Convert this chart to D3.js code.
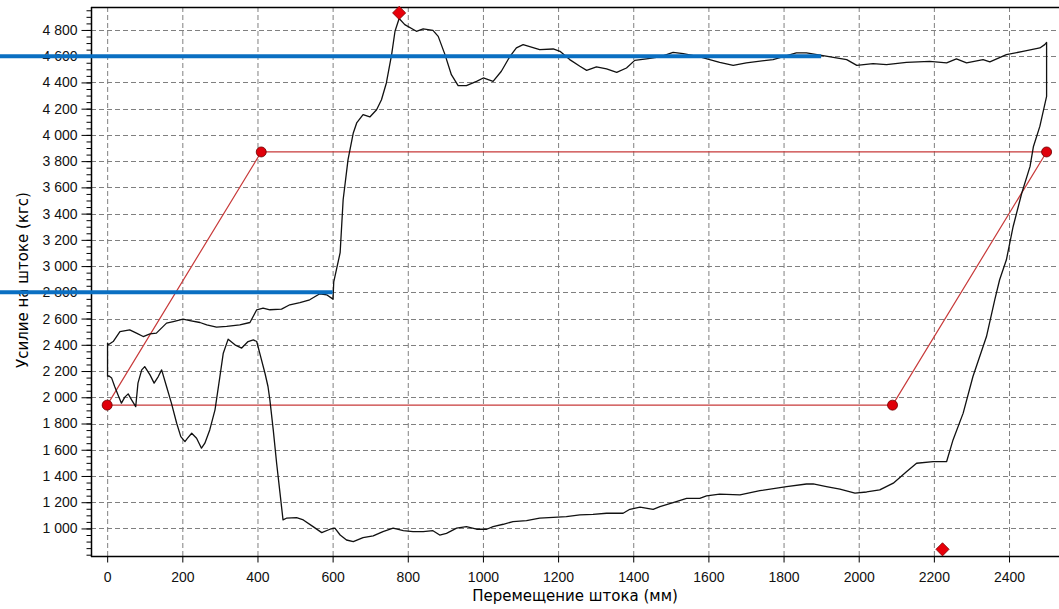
<!DOCTYPE html>
<html>
<head>
<meta charset="utf-8">
<script src="https://cdn.jsdelivr.net/npm/d3@7"></script>
<style>
  body { margin: 0; background: #fff; }
  svg { display: block; font-family: "DejaVu Sans", "Liberation Sans", Arial, sans-serif; }
  .grid line { stroke: #808080; stroke-width: 1; stroke-dasharray: 5,3; }
  .axis text { font-size: 14px; fill: #111; }
  .axis line { stroke: #000; }
</style>
</head>
<body>
<svg id="chart" width="1059" height="609"></svg>
<script>
// rod travel (mm) vs rod force (kgf), forward stroke: left edge up, upper branch to the right
const forwardStroke = [
  [1,2158],[1,2413],[3,2400],[16,2425],[34,2501],[60,2514],[78,2489],[96,2463],[114,2484],[131,2489],
  [158,2565],[176,2577],[202,2596],[220,2585],[247,2570],[265,2552],[291,2535],[318,2540],[353,2552],
  [380,2570],[398,2667],[415,2680],[433,2667],[464,2672],[486,2705],[513,2722],[539,2743],[566,2789],
  [584,2781],[601,2748],[603,2880],[620,3102],[628,3506],[641,3811],[655,4015],[664,4091],[681,4154],
  [699,4137],[717,4192],[730,4268],[743,4396],[757,4612],[766,4790],[777,4887],[792,4841],[823,4790],
  [841,4808],[867,4797],[881,4751],[899,4612],[916,4459],[934,4375],[956,4375],[983,4408],[1001,4434],
  [1027,4408],[1049,4485],[1072,4599],[1089,4663],[1107,4688],[1151,4650],[1187,4655],[1205,4637],
  [1231,4574],[1258,4523],[1276,4492],[1302,4518],[1329,4503],[1356,4477],[1382,4510],[1404,4568],
  [1435,4579],[1471,4594],[1506,4629],[1533,4619],[1577,4594],[1630,4553],[1666,4530],[1701,4549],
  [1772,4574],[1834,4625],[1861,4625],[1905,4604],[1968,4574],[1995,4530],[2038,4543],[2074,4536],
  [2127,4553],[2189,4561],[2234,4549],[2260,4579],[2287,4549],[2331,4574],[2349,4556],[2393,4612],
  [2437,4637],[2482,4663],[2495,4688],[2500,4705]
];

// return stroke: right edge down, lower branch back to zero
const returnStroke = [
  [2500,4705],[2500,4294],[2482,4065],[2465,3912],[2456,3760],[2434,3557],[2411,3302],[2393,3048],
  [2375,2896],[2362,2743],[2340,2463],[2304,2158],[2278,1879],[2251,1675],[2234,1510],[2216,1510],
  [2198,1510],[2154,1497],[2127,1433],[2092,1345],[2056,1294],[2021,1278],[1990,1269],[1950,1299],
  [1914,1319],[1879,1339],[1861,1339],[1808,1319],[1737,1288],[1684,1256],[1630,1261],[1595,1248],
  [1577,1230],[1542,1230],[1506,1197],[1471,1166],[1453,1146],[1418,1162],[1391,1146],[1373,1116],
  [1329,1116],[1293,1108],[1258,1103],[1222,1090],[1187,1085],[1151,1078],[1116,1059],[1080,1052],
  [1054,1032],[1027,1014],[1010,994],[983,994],[956,1014],[930,1002],[903,963],[885,950],[867,983],
  [841,976],[814,976],[788,983],[761,1002],[734,976],[708,943],[681,930],[655,899],[637,912],[620,950],
  [606,1002],[593,994],[571,968],[548,1014],[522,1065],[504,1082],[477,1078],[468,1065],[460,1269],
  [451,1497],[442,1751],[433,1980],[428,2082],[420,2183],[406,2336],[398,2425],[389,2438],[375,2425],
  [358,2375],[340,2400],[322,2443],[309,2336],[300,2158],[287,1904],[273,1751],[260,1650],[251,1612],
  [238,1688],[225,1726],[214,1688],[207,1662],[196,1700],[185,1802],[171,1955],[158,2082],[145,2209],
  [136,2158],[125,2108],[114,2171],[100,2234],[92,2209],[82,2108],[76,1929],[65,1980],[56,2026],
  [47,2001],[38,1955],[29,2018],[20,2082],[12,2146],[5,2163],[1,2158]
];

// reference envelope (parallelogram)
const envelopeUpper = [[0,1940],[410,3870],[2500,3870]];
const envelopeLower = [[0,1940],[2090,1940],[2500,3870]];
const envelopeCorners = [[0,1940],[410,3870],[2500,3870],[2090,1940]];

// max / min force markers
const extremes = [[777,4930],[2223,841]];

// blue marker lines drawn over the chart
const refLevels = [{force: 4600, until: 1900}, {force: 2800, until: 600}];

const xTicks = d3.range(0, 2401, 200);
const yTicks = d3.range(1000, 4801, 200);
const yMinorTicks = d3.range(800, 4951, 50);

const plot = {left: 91, right: 1059, top: 7, bottom: 556};

const svg = d3.select('#chart');

const x = d3.scaleLinear().domain([-43, 2533]).range([plot.left, plot.right]);
const y = d3.scaleLinear().domain([790, 4975]).range([plot.bottom, plot.top]);

// grid
const grid = svg.append('g').attr('class', 'grid');
grid.selectAll('.vx')
  .data(xTicks)
  .enter()
  .append('line')
  .attr('x1', d => x(d) + 0.5).attr('x2', d => x(d) + 0.5)
  .attr('y1', plot.top).attr('y2', plot.bottom);
grid.selectAll('.hy')
  .data(yTicks)
  .enter()
  .append('line')
  .attr('x1', plot.left).attr('x2', plot.right)
  .attr('y1', d => Math.round(y(d)) + 0.5).attr('y2', d => Math.round(y(d)) + 0.5);

// axes
const fmt = d => d3.format(',')(d).replace(/,/g, ' ');

svg.append('g')
  .attr('class', 'axis')
  .attr('transform', `translate(${plot.left + 0.5},0)`)
  .call(d3.axisLeft(y).tickValues(yTicks).tickSize(10).tickPadding(4).tickFormat(fmt))
  .call(g => g.select('.domain').remove());

svg.append('g')
  .attr('class', 'axis')
  .attr('transform', `translate(${plot.left + 0.5},0)`)
  .call(d3.axisLeft(y).tickValues(yMinorTicks).tickSize(5).tickFormat(''))
  .call(g => g.select('.domain').remove());

svg.append('g')
  .attr('class', 'axis')
  .attr('transform', `translate(0,${plot.bottom + 0.5})`)
  .call(d3.axisBottom(x).tickValues(xTicks).tickSize(6).tickPadding(10).tickFormat(d3.format('d')))
  .call(g => g.select('.domain').remove());

// frame lines
svg.append('line')
  .attr('x1', plot.left + 0.5).attr('x2', plot.left + 0.5)
  .attr('y1', plot.top).attr('y2', plot.bottom + 1)
  .attr('stroke', '#000').attr('stroke-width', 1.5);
svg.append('line')
  .attr('x1', plot.left).attr('x2', plot.right)
  .attr('y1', plot.bottom + 0.5).attr('y2', plot.bottom + 0.5)
  .attr('stroke', '#000').attr('stroke-width', 1.5);
svg.append('line')
  .attr('x1', plot.left).attr('x2', plot.right)
  .attr('y1', plot.top + 0.5).attr('y2', plot.top + 0.5)
  .attr('stroke', '#000').attr('stroke-width', 1.5);

// axis titles
svg.append('text')
  .attr('x', (plot.left + plot.right) / 2)
  .attr('y', 601)
  .attr('text-anchor', 'middle')
  .style('font-size', '15px')
  .text('Перемещение штока (мм)');

svg.append('text')
  .attr('transform', 'translate(28,280) rotate(-90)')
  .attr('text-anchor', 'middle')
  .style('font-size', '15px')
  .text('Усилие на штоке (кгс)');

const line = d3.line()
  .x(d => x(d[0]))
  .y(d => y(d[1]));

// envelope
svg.append('path')
  .datum(envelopeUpper)
  .attr('d', line)
  .attr('fill', 'none')
  .attr('stroke', '#c83a3a')
  .attr('stroke-width', 1.2);
svg.append('path')
  .datum(envelopeLower)
  .attr('d', line)
  .attr('fill', 'none')
  .attr('stroke', '#c83a3a')
  .attr('stroke-width', 1.2);

// measured curve
svg.append('path')
  .datum(forwardStroke.concat(returnStroke))
  .attr('d', line)
  .attr('fill', 'none')
  .attr('stroke', '#111')
  .attr('stroke-width', 1.3)
  .attr('stroke-linejoin', 'round');

svg.selectAll('.corner')
  .data(envelopeCorners)
  .enter()
  .append('circle')
  .attr('cx', d => x(d[0]))
  .attr('cy', d => y(d[1]))
  .attr('r', 5)
  .attr('fill', '#e0000a')
  .attr('stroke', '#6a0000')
  .attr('stroke-width', 0.8);

svg.selectAll('.extreme')
  .data(extremes)
  .enter()
  .append('path')
  .attr('d', d3.symbol(d3.symbolDiamond2, 110))
  .attr('transform', d => `translate(${x(d[0])},${y(d[1])})`)
  .attr('fill', '#e8000a')
  .attr('stroke', '#7a0000')
  .attr('stroke-width', 0.8);

// blue lines on top, starting at the image edge
svg.selectAll('.ref')
  .data(refLevels)
  .enter()
  .append('line')
  .attr('x1', 0)
  .attr('x2', d => x(d.until))
  .attr('y1', d => y(d.force))
  .attr('y2', d => y(d.force))
  .attr('stroke', '#0a6fc2')
  .attr('stroke-width', 4);
</script>
</body>
</html>
